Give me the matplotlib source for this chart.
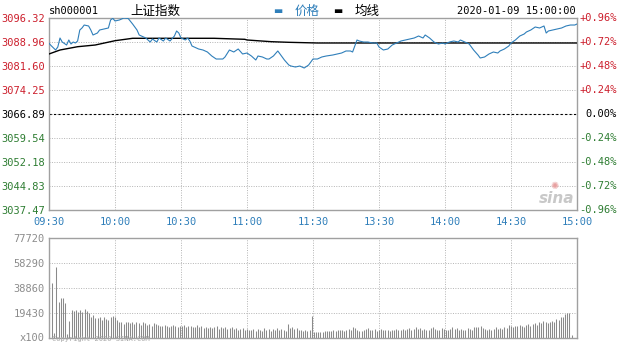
import numpy as np
import matplotlib
matplotlib.use("Agg")  # headless
import matplotlib.pyplot as plt
from matplotlib.transforms import blended_transform_factory

# --- data ---
time_ticks = [0, 30, 60, 90, 120, 150, 180, 210, 240]
time_labels = ["09:30", "10:00", "10:30", "11:00", "11:30", "13:30", "14:00", "14:30", "15:00"]

prev_close = 3066.89
price_ticks = [3096.32, 3088.96, 3081.60, 3074.25, 3066.89, 3059.54, 3052.18, 3044.83, 3037.47]
pct_labels = ["+0.96%", "+0.72%", "+0.48%", "+0.24%", "0.00%", "-0.24%", "-0.48%", "-0.72%", "-0.96%"]

price_min = [0, 1, 3, 4, 5, 6, 8, 9, 10, 11, 12, 13, 14, 15, 16, 18, 19, 20, 22, 23,
             25, 27, 28, 29, 30, 32, 34, 36, 38, 40, 41, 44, 46, 47, 49, 50, 52, 53, 55, 57,
             58, 59, 60, 62, 63, 64, 65, 68, 70, 72, 74, 76, 79, 80, 82, 84, 86, 88, 90, 92,
             94, 95, 97, 99, 100, 102, 104, 105, 107, 109, 110, 112, 114, 116, 118, 120, 122, 124, 126, 129,
             131, 133, 135, 137, 138, 140, 141, 143, 145, 147, 149, 150, 152, 154, 156, 158, 160, 162, 164, 166,
             168, 170, 171, 173, 175, 177, 179, 180, 182, 184, 186, 187, 189, 191, 193, 195, 196, 198, 200, 202,
             204, 205, 207, 209, 210, 212, 214, 216, 217, 219, 221, 223, 225, 226, 227, 229, 231, 233, 235, 237,
             239, 240]
price_val = [3088.56, 3087.83, 3086.51, 3087.43, 3090.19, 3088.96, 3088.04, 3089.58, 3088.35, 3088.96,
             3088.66, 3089.27, 3092.64, 3093.26, 3094.17, 3093.87, 3092.64, 3091.11, 3091.72, 3092.64,
             3092.95, 3093.26, 3095.71, 3096.23, 3095.40, 3095.71, 3096.32, 3096.17, 3094.48, 3092.64,
             3091.11, 3090.19, 3088.96, 3089.88, 3088.96, 3090.19, 3089.27, 3090.19, 3089.27, 3090.80,
             3092.34, 3091.72, 3090.19, 3089.58, 3090.19, 3089.27, 3087.74, 3086.82, 3086.51, 3085.90,
             3084.67, 3083.75, 3083.75, 3084.37, 3086.51, 3085.90, 3086.82, 3085.29, 3085.59, 3084.67,
             3083.45, 3084.67, 3084.37, 3083.75, 3083.75, 3084.67, 3086.21, 3085.29, 3083.45, 3081.91,
             3081.60, 3081.30, 3081.60, 3080.99, 3081.91, 3083.75, 3083.75, 3084.37, 3084.67, 3084.98,
             3085.29, 3085.59, 3086.21, 3086.21, 3085.90, 3089.58, 3089.27, 3088.96, 3088.96, 3088.66,
             3088.66, 3087.43, 3086.51, 3086.82, 3088.04, 3088.66, 3089.27, 3089.58, 3089.88, 3090.19,
             3090.80, 3090.19, 3091.11, 3090.19, 3088.96, 3088.35, 3088.66, 3088.35, 3088.96, 3089.27,
             3088.96, 3089.58, 3088.96, 3088.35, 3086.51, 3084.98, 3084.06, 3084.37, 3085.29, 3085.90,
             3085.59, 3086.21, 3086.82, 3087.74, 3088.66, 3089.58, 3090.80, 3091.42, 3092.03, 3092.64,
             3093.56, 3093.26, 3093.87, 3091.72, 3092.34, 3092.64, 3092.95, 3093.26, 3093.87, 3094.17,
             3094.17, 3094.48]

avg_min = [0, 5, 13, 21, 30, 38, 57, 75, 89, 90, 101, 109, 122, 240]
avg_val = [3085.29, 3086.51, 3087.52, 3088.04, 3089.36, 3090.10, 3090.10, 3090.10, 3089.79,
           3089.58, 3089.06, 3088.87, 3088.66, 3088.66]

vol_ticks = [77720, 58290, 38860, 19430]
vol_unit = "x100"

volume = [43000, 3900, 55400, 28200, 31100, 31300, 27000, 3100, 13200, 21800,
          21000, 21800, 20400, 21800, 20400, 22500, 21000, 19200, 16600, 17900,
          15300, 15300, 16000, 14200, 16000, 14800, 14200, 16600, 17300, 16000,
          14000, 12800, 12100, 10900, 12800, 12100, 11500, 12100, 10900, 12800,
          11500, 10300, 12100, 11500, 10300, 10900, 9600, 11500, 10900, 10300,
          9600, 9000, 10300, 9600, 8800, 9000, 10300, 9600, 8200, 9000,
          9600, 10300, 8200, 9000, 9600, 8200, 8800, 10300, 8200, 9000,
          7500, 8200, 7600, 8800, 7500, 8200, 9600, 7000, 8200, 7500,
          8800, 7000, 7600, 8200, 7000, 7500, 6400, 7000, 7600, 6400,
          7000, 6400, 6400, 7000, 5700, 7000, 6400, 5700, 7500, 6400,
          7000, 5700, 7000, 6400, 7600, 6400, 7000, 6400, 5700, 10600,
          7600, 8800, 7000, 7600, 6400, 6400, 5700, 6400, 5700, 6400,
          17100,
          4500, 5000, 4500, 5000, 5000, 5400, 5700, 5400, 5700, 6000,
          5400, 6400, 6000, 6400, 5700, 6400, 7000, 6400, 8200, 7500,
          6400, 5700, 5700, 6400, 7000, 7600, 6400, 6000, 7000, 5700,
          6400, 7000, 6400, 6000, 6400, 5700, 6400, 6400, 7000, 6000,
          6400, 7000, 6400, 7000, 7600, 6400, 7000, 8200, 7000, 7600,
          6400, 7000, 6000, 6400, 7600, 8200, 7000, 6400, 6400, 7600,
          7000, 6400, 6400, 7000, 8200, 7000, 7600, 6400, 7000, 6400,
          6400, 7600, 7000, 6400, 8800, 8200, 8800, 9600, 7600, 7000,
          6400, 7000, 6400, 7000, 8200, 7000, 7600, 7000, 8200, 7600,
          10300, 9600, 8200, 9000, 9600, 10300, 9600, 8800, 10300, 11000,
          9600, 11000, 11500, 10300, 12100, 11500, 13400, 12800, 11500, 12100,
          13400, 12100, 14800, 14200, 16000, 16500, 19000, 19700, 19700, 2300]

# --- styling ---
RED = "#cc1e2c"
GREEN = "#2e7d32"
BLUE = "#2f7fba"
GRID = "#b4b4b4"
FRAME = "#a0a0a0"
MONO = "DejaVu Sans Mono"
CJK = ["Noto Sans CJK SC", "DejaVu Sans"]

fig = plt.figure(figsize=(6.25, 3.42), dpi=100)
ax = fig.add_axes([49 / 625, 132 / 342, 528 / 625, 192 / 342])
axv = fig.add_axes([49 / 625, 4 / 342, 528 / 625, 100 / 342])

for a in (ax, axv):
    for sp in a.spines.values():
        sp.set_color(FRAME)
        sp.set_linewidth(1.0)
    a.set_xlim(0, 240)
    a.set_xticks(time_ticks)
    a.tick_params(length=0)
    a.grid(True, color=GRID, linestyle=(0, (1, 1.5)), linewidth=0.7)
    a.set_axisbelow(True)

# price panel
ax.set_ylim(price_ticks[-1], price_ticks[0])
ax.set_yticks(price_ticks)
ax.set_yticklabels([f"{v:.2f}" for v in price_ticks], fontfamily=MONO, fontsize=7.5)
ax.set_xticklabels(time_labels, fontfamily=MONO, fontsize=7.5, color=BLUE)
ax.tick_params(axis="y", pad=3)
ax.tick_params(axis="x", pad=5)
for lab, v in zip(ax.get_yticklabels(), price_ticks):
    lab.set_color(RED if v > prev_close + 0.01 else GREEN if v < prev_close - 0.01 else "black")

ax.axhline(prev_close, color="black", linestyle=(0, (2, 2)), linewidth=0.8, zorder=2)
ax.plot(avg_min, avg_val, color="black", linewidth=1.0, zorder=3)
ax.plot(price_min, price_val, color=BLUE, linewidth=0.8, zorder=4)

trans = blended_transform_factory(fig.transFigure, ax.transData)
for v, lab in zip(price_ticks, pct_labels):
    col = RED if lab.startswith("+") else GREEN if lab.startswith("-") else "black"
    ax.text(617 / 625, v, lab, transform=trans, ha="right", va="center",
            fontfamily=MONO, fontsize=7.5, color=col, clip_on=False)

# sina watermark
ax.text(0.995, 0.02, "sina", transform=ax.transAxes, ha="right", va="bottom",
        fontsize=11, fontstyle="italic", fontweight="bold", color="#c8c8c8")
ax.text(0.958, 0.10, "✺", transform=ax.transAxes, ha="center", va="bottom",
        fontsize=7, color="#e8a0a0")

# volume panel
bar_x = np.linspace(1.4, 237.5, len(volume))
axv.vlines(bar_x, 0, volume, color="#8a8a8a", linewidth=0.75)
axv.set_ylim(0, vol_ticks[0])
axv.set_yticks(vol_ticks + [0])
axv.set_yticklabels([str(v) for v in vol_ticks] + [""], fontfamily=MONO, fontsize=7.5,
                    color="#8c8c8c")
axv.set_xticklabels([])
axv.tick_params(axis="y", pad=3)
axv.annotate(vol_unit, xy=(0, 0), xycoords=("axes fraction", "data"), xytext=(-3, -2.2),
             textcoords="offset points", ha="right", va="baseline", fontfamily=MONO,
             fontsize=7.5, color="#8c8c8c", annotation_clip=False)

# header
fig.text(49 / 625, 1 - 11 / 342, "sh000001", fontfamily=MONO, fontsize=7.5, va="center")
fig.text(130 / 625, 1 - 11 / 342, "上证指数", family=CJK, fontsize=9, va="center")
fig.text(273 / 625, 1 - 11 / 342, "▬", color=BLUE, fontsize=7, va="center")
fig.text(295 / 625, 1 - 11 / 342, "价格", family=CJK, fontsize=9, color=BLUE, va="center")
fig.text(333 / 625, 1 - 11 / 342, "▬", color="black", fontsize=7, va="center")
fig.text(355 / 625, 1 - 11 / 342, "均线", family=CJK, fontsize=9, va="center")
fig.text(576 / 625, 1 - 11 / 342, "2020-01-09 15:00:00", fontfamily=MONO, fontsize=7.5,
         ha="right", va="center")
fig.text(52 / 625, 0.5 / 342, "Copyright 2020 SINA.COM", fontfamily=MONO, fontsize=5,
         color="#aaaaaa", va="bottom")

fig.savefig("out.png", dpi=100)
plt.close(fig)
